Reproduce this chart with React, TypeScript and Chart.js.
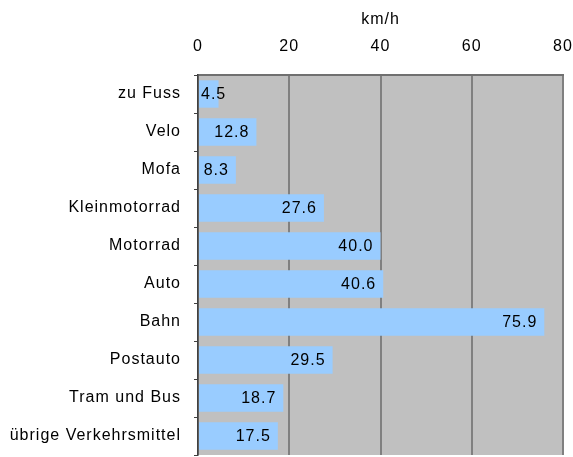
import React, { useEffect, useRef } from "react";
import { Chart, registerables } from "chart.js";

Chart.register(...registerables);

const categories = [
  "zu Fuss",
  "Velo",
  "Mofa",
  "Kleinmotorrad",
  "Motorrad",
  "Auto",
  "Bahn",
  "Postauto",
  "Tram und Bus",
  "übrige Verkehrsmittel",
];
const speeds = [4.5, 12.8, 8.3, 27.6, 40.0, 40.6, 75.9, 29.5, 18.7, 17.5];
const axisTitle = "km/h";
const xMin = 0;
const xMax = 80;
const xStep = 20;

const FONT = "'Liberation Sans', Arial, sans-serif";
const SPACING = "1px";

const spacing = {
  id: "spacing",
  beforeUpdate(chart: any) {
    chart.ctx.letterSpacing = SPACING;
  },
  beforeLayout(chart: any) {
    chart.ctx.letterSpacing = SPACING;
  },
  beforeDraw(chart: any) {
    chart.ctx.letterSpacing = SPACING;
  },
};

const plotBg = {
  id: "plotBg",
  beforeDraw(chart: any) {
    const { ctx, chartArea } = chart;
    ctx.save();
    ctx.fillStyle = "#C0C0C0";
    ctx.fillRect(chartArea.left, chartArea.top, chartArea.right - chartArea.left, chartArea.bottom - chartArea.top);
    ctx.restore();
  },
};

const barLabels = {
  id: "barLabels",
  afterDatasetsDraw(chart: any) {
    const { ctx } = chart;
    const meta = chart.getDatasetMeta(0);
    const data = chart.data.datasets[0].data as number[];
    ctx.save();
    ctx.letterSpacing = SPACING;
    ctx.font = `16px ${FONT}`;
    ctx.fillStyle = "#000";
    ctx.textAlign = "right";
    ctx.textBaseline = "middle";
    meta.data.forEach((bar: any, i: number) => {
      const txt = data[i].toFixed(1);
      const w = ctx.measureText(txt).width;
      const x = Math.max(bar.x - 7, bar.base + 2 + w);
      ctx.fillText(txt, x, bar.y + 1);
    });
    ctx.restore();
  },
};

export default function App() {
  const ref = useRef<HTMLCanvasElement>(null);
  useEffect(() => {
    if (!ref.current) return;
    const chart = new Chart(ref.current, {
      type: "bar",
      data: {
        labels: categories,
        datasets: [
          {
            data: speeds,
            backgroundColor: "#99CCFF",
            borderWidth: 0,
            categoryPercentage: 0.72,
            barPercentage: 1,
          },
        ],
      },
      options: {
        indexAxis: "y",
        animation: false,
        responsive: false,
        maintainAspectRatio: false,
        devicePixelRatio: 1,
        layout: { padding: { top: 0, left: 0, right: 10, bottom: 2 } },
        plugins: {
          legend: { display: false },
          tooltip: { enabled: false },
        },
        scales: {
          x: {
            position: "top",
            min: xMin,
            max: xMax,
            ticks: {
              stepSize: xStep,
              color: "#000",
              font: { family: FONT, size: 16 },
              padding: 19,
            },
            grid: {
              color: "#808080",
              lineWidth: 2,
              drawTicks: false,
            },
            border: { display: true, color: "#707070", width: 2 },
            title: {
              display: true,
              text: axisTitle,
              color: "#000",
              font: { family: FONT, size: 16 },
              padding: { top: 10, bottom: 0 },
            },
            afterFit(scale: any) {
              scale.height = 75;
              scale.paddingLeft = 0;
              scale.paddingRight = 0;
            },
          },
          y: {
            ticks: {
              color: "#000",
              font: { family: FONT, size: 16 },
              padding: 13,
            },
            grid: {
              drawOnChartArea: false,
              drawTicks: true,
              tickLength: 4,
              color: "#404040",
              offset: true,
            },
            border: { display: true, color: "#404040", width: 1.5 },
            afterFit(scale: any) {
              scale.width = 198;
              scale.paddingTop = 0;
              scale.paddingBottom = 0;
            },
          },
        },
      },
      plugins: [spacing, plotBg, barLabels],
    });
    return () => chart.destroy();
  }, []);
  return (
    <div style={{ position: "absolute", left: 0, top: 0, width: 573, height: 457 }}>
      <canvas ref={ref} width={573} height={457} style={{ display: "block" }} />
    </div>
  );
}
